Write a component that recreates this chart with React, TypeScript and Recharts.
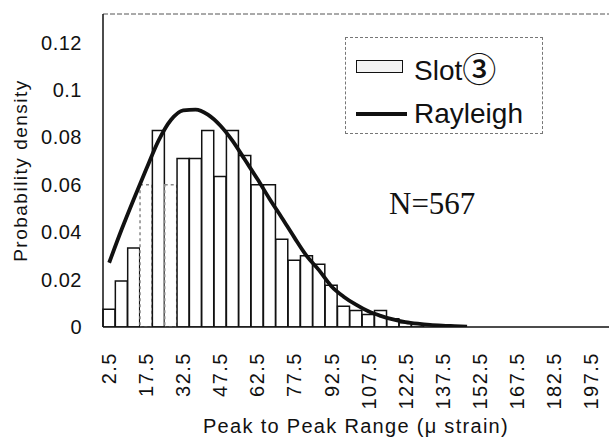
import { Bar, Cell, ComposedChart, Line, ReferenceLine, XAxis, YAxis } from "recharts";

// bin centres (µ strain), 5 µ strain wide
const BINS = [
  "2.5", "7.5", "12.5", "17.5", "22.5", "27.5", "32.5", "37.5", "42.5", "47.5",
  "52.5", "57.5", "62.5", "67.5", "72.5", "77.5", "82.5", "87.5", "92.5", "97.5",
  "102.5", "107.5", "112.5", "117.5", "122.5", "127.5", "132.5", "137.5", "142.5", "147.5",
  "152.5", "157.5", "162.5", "167.5", "172.5", "177.5", "182.5", "187.5", "192.5", "197.5",
  "202.5",
];

// histogram, Slot③ (N=567)
const SLOT3 = [
  0.0075, 0.0194, 0.0333, 0.06, 0.0829, 0.06, 0.0711, 0.0711, 0.0829, 0.0635,
  0.0829, 0.0723, 0.06, 0.06, 0.037, 0.0282, 0.03, 0.0265, 0.0176, 0.0088,
  0.007, 0.0053, 0.007, 0.0035, 0.0018, 0.0012, 0, 0, 0, 0,
  0, 0, 0, 0, 0, 0, 0, 0, 0, 0,
  0,
];

// fitted Rayleigh curve, drawn up to 147.5
const RAYLEIGH = [
  0.0271, 0.041, 0.054, 0.0665, 0.0786, 0.0873, 0.0914, 0.0917, 0.0896, 0.085,
  0.0785, 0.0705, 0.0625, 0.054, 0.046, 0.0378, 0.03, 0.024, 0.0172, 0.0128,
  0.0094, 0.0066, 0.0047, 0.0032, 0.0021, 0.0014, 0.0009, 0.0006, 0.0004, 0.0002,
];

const Y_TICKS = [0, 0.02, 0.04, 0.06, 0.08, 0.1, 0.12];
const Y_TICK_LABELS = ["0", "0.02", "0.04", "0.06", "0.08", "0.1", "0.12"];
const Y_MAX = 0.132;

// these two bars are printed faint / dotted in the scan
const FAINT_BINS = ["17.5", "27.5"];

const SANS = "'Liberation Sans', Arial, 'Noto Sans CJK JP', sans-serif";
const SERIF = "'Liberation Serif', 'Times New Roman', serif";
const INK = "#111";

const data = BINS.map((bin, i) => ({
  bin,
  slot: SLOT3[i],
  rayleigh: i < RAYLEIGH.length ? RAYLEIGH[i] : null,
}));

function BinTick({ x, y, payload }: any) {
  return (
    <text
      x={x}
      y={y}
      dy="0.36em"
      textAnchor="end"
      transform={`rotate(-90, ${x}, ${y})`}
      fontSize={20}
      letterSpacing={1.5}
      fontFamily={SANS}
      fill={INK}
    >
      {payload.value}
    </text>
  );
}

function YTitle({ viewBox }: any) {
  const cy = viewBox.y + viewBox.height / 2;
  return (
    <text
      x={20}
      y={cy}
      dy="0.36em"
      textAnchor="middle"
      transform={`rotate(-90, 20, ${cy})`}
      fontSize={19}
      letterSpacing={1.5}
      fontFamily={SANS}
      fill={INK}
    >
      Probability density
    </text>
  );
}

function XTitle({ viewBox }: any) {
  return (
    <text
      x={viewBox.x + viewBox.width / 2}
      y={433}
      textAnchor="middle"
      fontSize={20}
      letterSpacing={1.3}
      fontFamily={SANS}
      fill={INK}
    >
      Peak to Peak Range (μ strain)
    </text>
  );
}

export default function App() {
  return (
    <div style={{ position: "absolute", left: 0, top: 0, width: 610, height: 438, background: "#fff" }}>
      <ComposedChart
        width={610}
        height={438}
        data={data}
        margin={{ top: 14, right: 1, bottom: 0, left: 0 }}
        barCategoryGap={0}
      >
        <XAxis
          dataKey="bin"
          interval={2}
          height={111}
          tick={BinTick}
          tickLine={false}
          tickSize={0}
          tickMargin={25}
          axisLine={{ stroke: INK, strokeWidth: 1.5 }}
          label={XTitle}
        />
        <YAxis
          type="number"
          domain={[0, Y_MAX]}
          ticks={Y_TICKS}
          allowDataOverflow
          width={103}
          tickFormatter={(v: number) => Y_TICK_LABELS[Y_TICKS.indexOf(v)] ?? String(v)}
          tick={{ fill: INK, fontSize: 20, fontFamily: SANS, letterSpacing: 0.5 }}
          tickLine={false}
          tickSize={0}
          tickMargin={21}
          axisLine={{ stroke: INK, strokeWidth: 1.5 }}
          label={YTitle}
        />
        <ReferenceLine y={Y_MAX} stroke="#555" strokeDasharray="5 2" strokeWidth={1} />
        <Bar dataKey="slot" fill="#fff" stroke={INK} strokeWidth={1.5} isAnimationActive={false}>
          {data.map((d) => (
            <Cell
              key={d.bin}
              stroke={FAINT_BINS.includes(d.bin) ? "#888" : INK}
              strokeDasharray={FAINT_BINS.includes(d.bin) ? "3 3" : undefined}
            />
          ))}
        </Bar>
        <Line
          dataKey="rayleigh"
          type="monotone"
          stroke={INK}
          strokeWidth={3.8}
          dot={false}
          activeDot={false}
          isAnimationActive={false}
        />
      </ComposedChart>

      {/* legend */}
      <div
        style={{
          position: "absolute",
          left: 345,
          top: 37,
          width: 198,
          height: 97,
          boxSizing: "border-box",
          border: "1px dashed #777",
          background: "#fff",
        }}
      />
      <div style={{ position: "absolute", left: 356, top: 60, width: 47, height: 13, boxSizing: "border-box", border: `1.5px solid ${INK}`, background: "#f3f3f3" }} />
      <div style={{ position: "absolute", left: 414, top: 51, fontFamily: SANS, fontSize: 28, lineHeight: 1, color: INK, whiteSpace: "nowrap" }}>
        Slot<span style={{ fontFamily: "'Noto Sans CJK JP', sans-serif", fontSize: 34, fontWeight: 500, verticalAlign: "-2px" }}>③</span>
      </div>
      <div style={{ position: "absolute", left: 356, top: 112, width: 51, height: 3.5, background: INK }} />
      <div style={{ position: "absolute", left: 414, top: 100, fontFamily: SANS, fontSize: 28, lineHeight: 1, color: INK }}>Rayleigh</div>

      <div style={{ position: "absolute", left: 389, top: 188, fontFamily: SERIF, fontSize: 31, lineHeight: 1, color: INK }}>N=567</div>
    </div>
  );
}
